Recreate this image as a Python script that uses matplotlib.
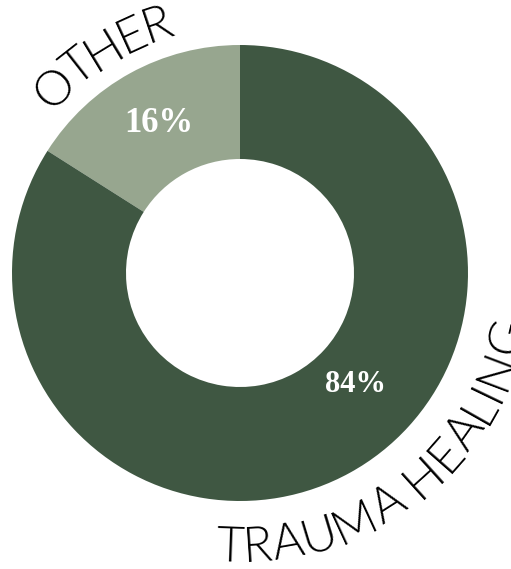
import numpy as np
import matplotlib
matplotlib.use("Agg")
import matplotlib.pyplot as plt
from matplotlib.font_manager import FontProperties
from matplotlib.textpath import TextToPath

labels = ["OTHER", "TRAUMA HEALING"]
shares = [16, 84]
pct_text = ["16%", "84%"]
colors = ["#97a68f", "#3f5742"]

W, H = 511, 569
fig = plt.figure(figsize=(W / 100, H / 100), dpi=100)
ax = fig.add_axes([0, 0, 1, 1])

cx, cy = 240, H - 273
R_out, R_in = 228, 114

ax.pie(shares, colors=colors, startangle=90, counterclock=True,
       radius=R_out, center=(cx, cy), frame=True,
       wedgeprops=dict(width=R_out - R_in, linewidth=0))

ax.set_xlim(0, W)
ax.set_ylim(0, H)
ax.set_aspect("equal")
ax.axis("off")

# percentage labels
ax.text(159, H - 123, pct_text[0], color="white", fontsize=25, fontweight="bold",
        family="Liberation Serif", ha="center", va="center")
ax.text(356, H - 384, pct_text[1], color="white", fontsize=22, fontweight="bold",
        family="Liberation Serif", ha="center", va="center")

# curved labels
fp = FontProperties(family="Lato", weight=300, size=35)
ttp = TextToPath()


def width_px(s):
    if not s:
        return 0.0
    w, h, d = ttp.get_text_width_height_descent(s, fp, ismath=False)
    return w * 100 / 72


def curved(text, first_deg, last_deg, r_base, outward):
    # spread the letters so the first and last letter centres land on the given angles
    total = width_px(text)
    inner = total - width_px(text[0]) / 2 - width_px(text[-1]) / 2
    r_space = inner / np.radians(abs(last_deg - first_deg))
    mid_deg = (first_deg + last_deg) / 2
    for i, ch in enumerate(text):
        if ch == " ":
            continue
        pre = width_px(text[:i])
        cw = width_px(ch)
        s = pre + cw / 2 - total / 2
        da = np.degrees(s / r_space)
        if outward:
            th = mid_deg - da
            rot = th - 90
        else:
            th = mid_deg + da
            rot = th + 90
        x = cx + r_base * np.cos(np.radians(th))
        y = cy + r_base * np.sin(np.radians(th))
        ax.text(x, y, ch, fontproperties=fp, rotation=rot, rotation_mode="anchor",
                ha="center", va="baseline", color="black")


curved(labels[0], 135.5, 109, 247, outward=True)
curved(labels[1], -91.7, -13, 289, outward=False)

fig.savefig("out.png", dpi=100)
